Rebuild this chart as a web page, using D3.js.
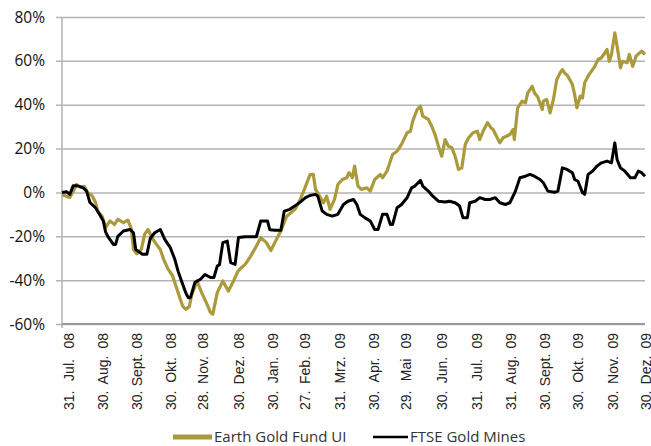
<!DOCTYPE html>
<html>
<head>
<meta charset="utf-8">
<script src="https://cdn.jsdelivr.net/npm/d3@7/dist/d3.min.js"></script>
<style>
  html, body { margin: 0; padding: 0; background: #fff; }
  svg { display: block; }
  .ylab { font-family: "Open Sans", sans-serif; font-size: 15.5px; fill: #111; }
  .xlab { font-family: "Liberation Sans", Arial, sans-serif; font-size: 14px; fill: #222; }
  .leg { font-family: "Open Sans", sans-serif; font-size: 15px; fill: #333; }
</style>
</head>
<body>
<div id="chart"></div>
<script>
// days since 31 Jul 2008
const goldDays = [0,4,7,11,13,16,20,23,27,30,32,36,39,43,47,50,55,59,62,64,67,71,74,77,81,85,88,91,95,99,104,108,111,114,116,121,125,129,133,135,139,144,149,153,157,159,164,169,174,178,183,187,192,196,201,205,209,213,217,222,225,227,231,234,237,240,244,247,251,255,257,260,262,265,268,273,276,280,285,287,291,294,296,300,304,309,312,314,318,321,323,328,331,334,337,340,343,346,349,352,355,358,361,364,368,372,374,377,381,384,386,389,392,395,398,401,404,405,408,412,415,417,421,423,426,430,431,434,437,440,443,446,448,450,453,457,459,461,464,466,468,471,475,477,480,483,486,488,490,492,495,498,500,502,506,508,511,514,517,519,522];
const goldValues = [-1,-1.7,-2.3,1.5,3.6,2.5,2.8,0,-1.5,-4.6,-8.5,-11,-16,-13,-14.6,-12.3,-13.8,-12.6,-16.5,-26,-28,-26,-19,-16.9,-21,-24,-26,-30.5,-35,-38,-45.7,-51.8,-53.3,-52,-47,-40.4,-45.7,-50,-54.8,-55.6,-45.7,-40.4,-45,-41,-36.5,-35,-32.8,-29,-24.5,-20.6,-22.9,-26.5,-21.4,-17.6,-11,-9.3,-7.5,-3.5,1.4,8,8.2,1.4,-2,-4.7,-1.7,-7.7,-3.2,3.6,5.9,6.7,9,6.7,12,2.9,1.4,2.1,0.6,5.9,8.2,6.7,9.7,14.3,17.3,18.8,21.9,27.2,27.9,32.5,37.8,39.3,34.8,33.3,30.2,26.4,21.1,16.5,24.1,21.1,20.4,16.5,10.5,11.2,21.9,24.9,27.2,27.9,24.1,27.9,31.8,29.5,28.7,25.6,22.6,24.9,25.6,26.4,28.7,24.1,38.6,41.6,40.9,45.4,48.4,45.4,43.5,37.8,41.6,42.4,36.3,42.4,51.5,54.5,56,54.5,53,49.2,44.6,38.6,43.9,43.1,50,53,56,57.5,60.6,61.4,63.6,65.2,59.8,62.9,72.8,63.6,56.8,59.8,59.1,62.9,57.5,62.1,63.6,64.4,62.9];

const minesDays = [0,4,7,10,14,19,22,25,30,33,37,39,41,46,48,50,55,61,64,66,72,76,79,83,88,92,97,101,104,107,111,113,115,119,124,128,133,136,139,141,144,148,151,155,158,164,174,178,184,186,191,196,199,204,209,213,218,222,227,229,233,237,242,247,252,256,261,264,267,271,276,280,283,287,291,294,296,300,304,309,313,316,321,323,328,332,337,343,347,352,356,359,363,365,370,374,379,383,388,392,397,401,406,410,415,419,423,428,431,435,441,444,448,452,457,459,462,466,468,471,475,479,483,488,492,495,497,500,504,509,513,516,519,522];
const minesValues = [0,0.3,-0.9,3,3,2.1,0.6,-4.6,-7,-9.5,-13,-18,-20,-23.7,-23.7,-20,-17.6,-16.9,-18.4,-26,-28.2,-28.2,-21,-18.4,-16.9,-21.4,-25.2,-30.5,-36,-40.4,-46,-48,-48,-41,-39.6,-37.4,-38.8,-38.8,-33.6,-33,-22.9,-22.2,-32,-32.8,-20.6,-20.2,-20.2,-13,-13,-17,-17.2,-17.2,-8.5,-7.7,-6,-4.5,-2.4,-1.4,-0.9,-1.7,-8.5,-10,-10.8,-10,-5.5,-4,-3.2,-5.5,-10,-11.5,-13,-16.9,-16.9,-10,-10,-14.6,-14.6,-7,-5.5,-2.4,2.1,2.9,5.5,2.9,0.6,-1.7,-4,-4.4,-4,-4.7,-6.2,-11.5,-11.5,-4.7,-4,-2.4,-3.2,-3.2,-2.4,-4.7,-5.5,-4.7,0.6,6.7,7.4,8.2,7.4,5.9,4.4,0.6,0.1,0.6,11.2,10.5,9,5.9,5.1,-0.1,-0.9,8.2,9.7,12,13.5,14.3,13.5,22.6,15,11.2,9.7,6.7,6.7,9.7,9,7.4];

const tickDays = [0,30,61,91,120,152,183,211,243,273,302,334,365,396,426,456,487,517];
const tickLabels = ["31. Jul. 08","30. Aug. 08","30. Sept. 08","30. Okt. 08","28. Nov. 08","30. Dez. 08","30. Jan. 09","27. Feb. 09","31. Mrz. 09","30. Apr. 09","29. Mai 09","30. Jun. 09","31. Jul. 09","31. Aug. 09","30. Sept. 09","30. Okt. 09","30. Nov. 09","30. Dez. 09"];
const yTicks = [-60,-40,-20,0,20,40,60,80];
const seriesNames = ["Earth Gold Fund UI", "FTSE Gold Mines"];
const seriesColors = ["#aa9a3c", "#000000"];

const width = 651, height = 446;
const svg = d3.select("#chart").append("svg")
  .attr("width", width)
  .attr("height", height);

const x = d3.scaleLinear().domain([0, 522]).range([62, 645]);
const y = d3.scaleLinear().domain([-60, 80]).range([324, 17]);

// horizontal grid + left ticks
svg.append("g")
  .attr("transform", "translate(56,0)")
  .call(d3.axisRight(y).tickValues(yTicks).tickSize(589).tickFormat(""))
  .call(g => g.select(".domain").remove())
  .call(g => g.selectAll(".tick line").attr("stroke", "#b3b3b3").attr("stroke-width", 1.5));

svg.selectAll(".ylab")
  .data(yTicks)
  .enter().append("text")
  .attr("class", "ylab")
  .attr("x", 45)
  .attr("y", d => y(d))
  .attr("dy", "0.36em")
  .attr("text-anchor", "end")
  .text(d => d + "%");

// axis lines
svg.append("line")
  .attr("x1", x(0)).attr("x2", x(0))
  .attr("y1", y(80)).attr("y2", y(-60) + 4)
  .attr("stroke", "#b3b3b3").attr("stroke-width", 1.5);
svg.append("line")
  .attr("x1", x(0)).attr("x2", 645)
  .attr("y1", y(-60)).attr("y2", y(-60))
  .attr("stroke", "#999").attr("stroke-width", 2);

// lines
const line = d3.line()
  .x(d => x(d[0]))
  .y(d => y(d[1]));

svg.append("path")
  .datum(d3.zip(goldDays, goldValues))
  .attr("fill", "none")
  .attr("stroke", seriesColors[0])
  .attr("stroke-width", 3.2)
  .attr("stroke-linejoin", "round")
  .attr("d", line);

svg.append("path")
  .datum(d3.zip(minesDays, minesValues))
  .attr("fill", "none")
  .attr("stroke", seriesColors[1])
  .attr("stroke-width", 3)
  .attr("stroke-linejoin", "round")
  .attr("d", line);

// x labels (day / month / year laid out along the rotated label)
const xl = svg.selectAll(".xl")
  .data(tickDays)
  .enter().append("g")
  .attr("class", "xl")
  .attr("transform", d => "translate(" + (x(d) + 7) + ",0) rotate(-90)");

xl.append("text").attr("class", "xlab")
  .attr("x", -410).attr("dy", "0.36em")
  .attr("text-anchor", "start")
  .text((d, i) => tickLabels[i].split(" ")[0]);
xl.append("text").attr("class", "xlab")
  .attr("x", -370).attr("dy", "0.36em")
  .attr("text-anchor", "middle")
  .text((d, i) => tickLabels[i].split(" ")[1]);
xl.append("text").attr("class", "xlab")
  .attr("x", -333).attr("dy", "0.36em")
  .attr("text-anchor", "end")
  .text((d, i) => tickLabels[i].split(" ")[2]);

// legend
const legX = [173, 373];
const leg = svg.selectAll(".legitem")
  .data(seriesNames)
  .enter().append("g")
  .attr("class", "legitem")
  .attr("transform", (d, i) => "translate(" + legX[i] + ",437)");
leg.append("line")
  .attr("x1", 0).attr("x2", (d, i) => i === 0 ? 39 : 35)
  .attr("stroke", (d, i) => seriesColors[i])
  .attr("stroke-width", (d, i) => i === 0 ? 5 : 2.5);
leg.append("text").attr("class", "leg")
  .attr("x", (d, i) => i === 0 ? 41 : 37)
  .attr("dy", "0.36em")
  .text(d => d);
</script>
</body>
</html>
